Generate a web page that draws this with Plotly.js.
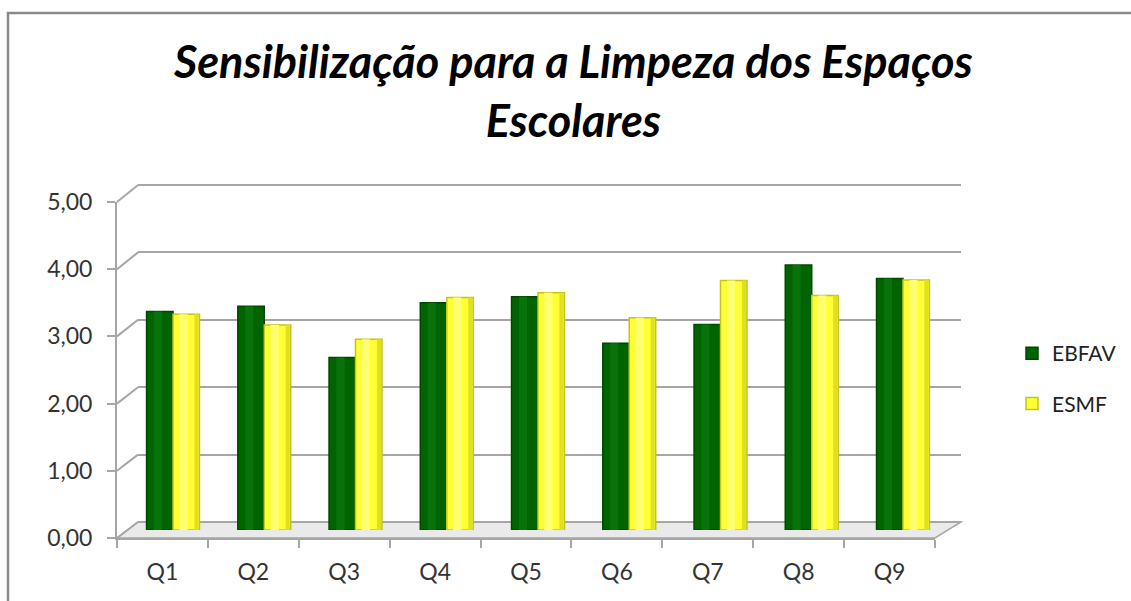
<!DOCTYPE html>
<html>
<head>
<meta charset="utf-8">
<script src="https://cdn.plot.ly/plotly-3.0.1.min.js"></script>
<style>html,body{margin:0;padding:0;background:#fff;overflow:hidden;}#chart{width:1131px;height:601px;}</style>
</head>
<body>
<div id="chart"></div>
<script>
const categories = ["Q1","Q2","Q3","Q4","Q5","Q6","Q7","Q8","Q9"];
const ebfav = [3.24, 3.32, 2.56, 3.37, 3.46, 2.77, 3.05, 3.93, 3.73];
const esmf  = [3.20, 3.04, 2.83, 3.45, 3.52, 3.15, 3.70, 3.48, 3.71];
const yTicks = [0, 1, 2, 3, 4, 5];
const seriesNames = ["EBFAV", "ESMF"];

const W = 1131, H = 601;
const px = p => p / W;
const py = p => 1 - p / H;

// geometry (pixels)
const front = {x0: 117, x1: 935, y0: 538, y5: 202};
const back  = {x0: 138, x1: 961, y0: 522, y5: 185};
const bars  = {x0: 127.4, x1: 948.6, y0: 530, y5: 193};
const pad = 0.05;
const backUnit = (back.y0 - back.y5) / 5;

const gridCol = "#a6a6a6";
const frameCol = "#8a8a8a";
const fontFam = "Lato, 'Open Sans', sans-serif";
const BW = 0.29;

function barTrace(name, vals, color, lineColor, width, offset, legend, group) {
  return {type: "bar", name: name, x: categories, y: vals, xaxis: "x3", yaxis: "y3",
    width: width, offset: offset, showlegend: legend, legendgroup: group,
    hoverinfo: "skip",
    marker: {color: color, line: {color: lineColor, width: legend ? 1.5 : 0}}};
}

const traces = [
  {type: "scatter", mode: "none", x: categories, y: categories.map(() => 0),
   xaxis: "x", yaxis: "y", showlegend: false, hoverinfo: "skip"},
  {type: "scatter", mode: "none", x: [0, 1], y: [0, 0],
   xaxis: "x2", yaxis: "y2", showlegend: false, hoverinfo: "skip"},
  barTrace(seriesNames[0], ebfav, "#006400", "#004800", BW, -BW, true, "a"),
  barTrace(seriesNames[0], ebfav, "#0a720a", "#0a720a", 0.09, -0.21, false, "a"),
  barTrace(seriesNames[1], esmf, "#ffff33", "#c4c41c", BW, 0, true, "b"),
  barTrace(seriesNames[1], esmf, "#ffff70", "#ffff70", 0.09, 0.07, false, "b"),
  barTrace(seriesNames[1], esmf, "#e0e020", "#e0e020", 0.045, 0.235, false, "b")
];

const shapes = [];
// frame (left and top edges of the chart area border)
shapes.push({type: "path", xref: "paper", yref: "paper",
  path: `M ${px(8)},${py(620)} L ${px(8)},${py(13)} L ${px(1160)},${py(13)}`,
  line: {color: frameCol, width: 2.5}, layer: "below"});
// floor
shapes.push({type: "path", xref: "paper", yref: "paper",
  path: `M ${px(front.x0)},${py(front.y0)} L ${px(front.x1)},${py(front.y0)} L ${px(back.x1)},${py(back.y0)} L ${px(back.x0)},${py(back.y0)} Z`,
  fillcolor: "#eaeaea", line: {color: gridCol, width: 1.5}, layer: "below"});
// left-wall connectors
yTicks.forEach(v => {
  const yf = front.y0 + (front.y5 - front.y0) * v / 5;
  const yb = back.y0 + (back.y5 - back.y0) * v / 5;
  shapes.push({type: "line", xref: "paper", yref: "paper",
    x0: px(front.x0), y0: py(yf), x1: px(back.x0), y1: py(yb),
    line: {color: gridCol, width: 2}, layer: "below"});
});

const layout = {
  width: W, height: H,
  margin: {l: 0, r: 0, t: 0, b: 0},
  paper_bgcolor: "#ffffff", plot_bgcolor: "rgba(0,0,0,0)",
  separators: ", ",
  font: {family: fontFam, color: "#333333"},
  title: {
    text: "Sensibilização para a Limpeza dos Espaços<br>Escolares",
    font: {family: fontFam, size: 45, weight: "bold", style: "italic", color: "#000000"},
    x: 0.507, xanchor: "center", y: py(78), yanchor: "top"
  },
  barmode: "overlay",
  xaxis: {domain: [px(front.x0), px(front.x1)], type: "category", range: [-0.5, 8.5],
    tickson: "boundaries", ticks: "outside", ticklen: 8, tickcolor: gridCol, tickwidth: 2,
    showline: true, linecolor: gridCol, linewidth: 2, showgrid: false, zeroline: false,
    tickfont: {size: 23, color: "#333333"}, ticklabelstandoff: 12, anchor: "y", fixedrange: true},
  yaxis: {domain: [py(front.y0), py(front.y5)], range: [0, 5], tickvals: yTicks,
    tickformat: ".2f", ticks: "outside", ticklen: 8, tickcolor: gridCol, tickwidth: 2,
    showline: true, linecolor: gridCol, linewidth: 2, showgrid: false, zeroline: false,
    tickfont: {size: 23, color: "#333333"}, ticklabelstandoff: 10, anchor: "x", fixedrange: true},
  xaxis2: {domain: [px(back.x0), px(back.x1)], range: [0, 1], visible: false, anchor: "y2"},
  yaxis2: {domain: [py(back.y0 + pad * backUnit), py(back.y5 - pad * backUnit)],
    range: [-pad, 5 + pad], tickvals: yTicks,
    showgrid: true, gridcolor: gridCol, gridwidth: 2, showticklabels: false, ticks: "",
    zeroline: false, showline: false, anchor: "x2"},
  xaxis3: {domain: [px(bars.x0), px(bars.x1)], type: "category", range: [-0.5, 8.5],
    visible: false, anchor: "y3"},
  yaxis3: {domain: [py(bars.y0), py(bars.y5)], range: [0, 5], visible: false, anchor: "x3"},
  legend: {x: px(1012), xanchor: "left", y: py(333), yanchor: "top",
    font: {size: 21, color: "#222222"}, traceorder: "grouped", tracegroupgap: 20,
    bgcolor: "rgba(0,0,0,0)"},
  shapes: shapes,
  showlegend: true
};

Plotly.newPlot("chart", traces, layout, {displayModeBar: false, staticPlot: true});
</script>
</body>
</html>
